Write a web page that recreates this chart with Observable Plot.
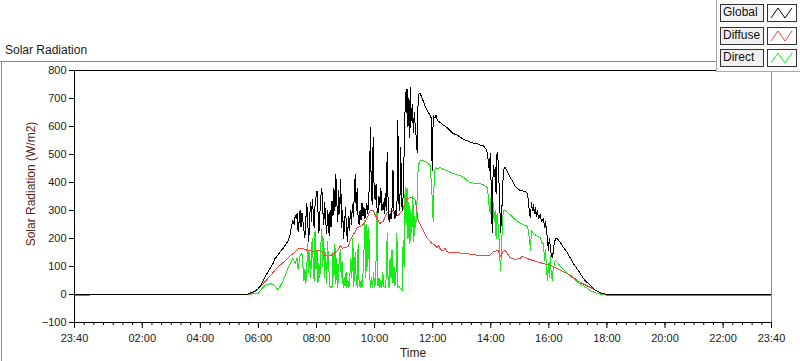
<!DOCTYPE html>
<html>
<head>
<meta charset="utf-8">
<script src="https://cdn.jsdelivr.net/npm/d3@7"></script>
<script src="https://cdn.jsdelivr.net/npm/@observablehq/plot@0.6"></script>
<style>
  html, body { margin: 0; padding: 0; background: #fff; }
  #wrap { position: relative; width: 800px; height: 361px; overflow: hidden; font-family: "Liberation Sans", Arial, sans-serif; }
  #wrap svg { position: absolute; left: 0; top: 0; }
  .abs { position: absolute; }
  .lbox { position: absolute; box-sizing: border-box; border: 1px solid #333; background: #f0f0f0; font-size: 12px; color: #111; line-height: 15px; padding-left: 2px; }
  .ibox { position: absolute; box-sizing: border-box; border: 1px solid #333; background: #fff; }
</style>
</head>
<body>
<div id="wrap"></div>
<script>
// ---- data (time in minutes from midnight; -20 = 23:40 of the previous day) ----
const seriesNames = ["Global", "Diffuse", "Direct"];
const seriesColors = ["#000000", "#ff4040", "#14ee14"];

const globalTimes = [-20,336,342,353,359,363,367,373,379,384,390,394,400,404,411,415,421,425,428,431,434,436,438,440,442,444,446,448,450,452,454,456,458,460,462,464,466,468,470,471,473,475,477,479,481,483,485,487,489,491,493,495,497,499,501,503,505,506,508,510,512,514,516,518,520,522,524,526,528,530,532,534,536,538,540,542,544,546,548,550,552,554,556,558,560,562,564,566,568,570,572,574,576,578,580,582,584,586,588,590,591,593,595,597,599,601,603,605,607,609,611,613,615,618,620,622,624,626,628,630,632,634,636,638,640,642,644,646,648,650,652,654,656,658,660,662,664,666,667,669,671,673,674,676,678,680,682,684,686,688,690,692,694,697,700,705,709,715,717,719,720,721,723,725,727,730,736,742,750,756,762,770,777,785,791,797,805,812,818,824,830,833,835,837,839,841,843,845,847,849,851,853,855,857,859,860,862,864,866,868,870,874,880,885,888,891,895,901,905,907,911,914,916,918,920,922,924,926,928,930,932,934,936,939,942,945,949,951,953,955,957,959,961,963,965,967,969,971,973,975,978,984,990,998,1005,1011,1019,1025,1031,1036,1046,1052,1056,1067,1077,1081,1420];
const globalValues = [0,0,5,12,20,28,40,61,78,93,110,128,140,150,165,175,190,211,240,264,250,282,270,290,225,260,300,240,290,260,230,204,270,325,250,190,280,330,260,340,300,240,320,350,371,300,220,290,350,380,300,250,330,260,218,300,270,210,300,240,335,280,380,300,430,330,260,370,290,410,240,300,200,260,310,230,190,280,230,300,250,320,280,350,430,300,380,270,250,300,265,325,280,310,270,300,325,290,350,420,596,400,320,560,380,340,395,310,290,350,320,380,300,330,290,360,300,507,320,260,290,270,310,445,300,270,300,280,620,330,300,525,320,300,420,600,720,650,735,600,700,560,740,620,680,580,650,600,560,507,700,718,720,705,693,670,655,640,630,443,500,640,632,630,640,620,614,605,596,586,575,570,562,553,550,545,540,539,534,532,520,507,470,443,503,380,220,460,420,453,360,507,480,400,300,220,264,350,440,453,453,440,418,405,396,385,378,371,371,369,368,364,360,330,290,275,330,300,320,290,310,280,300,270,285,260,270,240,260,230,200,157,200,170,140,132,150,180,195,200,198,185,168,150,128,110,90,75,58,48,32,22,16,6,1,0,0];

const diffuseTimes = [-20,10,12,336,342,353,360,373,384,394,404,415,425,436,442,446,452,462,470,473,483,491,498,504,510,518,525,529,533,537,545,549,553,560,564,570,574,580,586,591,597,605,611,618,626,636,642,649,657,663,667,673,678,684,688,690,698,709,719,725,729,733,736,742,746,750,762,777,791,805,818,839,845,855,860,862,866,870,880,891,901,905,916,928,942,957,963,975,984,1005,1025,1046,1067,1077,1081,1420];
const diffuseValues = [-4,-4,0,0,3,10,21,45,66,86,104,120,138,152,164,165,164,157,155,153,158,153,139,136,140,150,160,175,165,168,170,190,204,225,239,242,246,257,280,300,300,271,254,262,293,300,282,282,300,325,343,345,346,336,290,264,236,200,182,175,168,175,160,157,165,152,150,148,146,142,139,141,153,157,136,140,155,157,132,125,130,136,128,121,114,106,104,95,86,68,43,25,5,0,-4,-4];

const directTimes = [-20,336,360,367,373,384,390,394,400,405,411,421,431,436,440,442,446,450,452,454,456,458,460,462,464,466,468,471,473,475,477,479,481,483,485,487,489,491,493,495,497,499,501,503,505,508,510,512,514,516,518,520,522,524,526,529,531,533,535,537,539,541,543,545,547,549,551,553,555,557,560,562,564,566,568,570,572,574,577,580,582,584,586,588,590,592,594,596,598,600,602,605,607,609,611,613,615,617,619,622,624,626,628,630,632,634,636,638,640,642,644,646,648,650,652,654,657,659,661,663,665,667,669,671,673,675,677,679,681,683,685,688,690,692,694,700,705,709,715,719,721,723,725,729,736,742,750,756,762,777,785,791,797,812,818,824,833,837,839,841,843,845,847,849,851,853,855,857,860,862,864,866,870,874,880,888,895,901,907,916,920,922,924,928,934,942,946,949,951,953,955,957,959,961,963,965,967,969,973,978,984,990,998,1005,1011,1019,1025,1031,1036,1046,1052,1056,1067,1077,1420];
const directValues = [0,0,4,20,32,39,36,32,18,30,50,93,128,110,130,90,140,146,100,50,90,40,100,182,80,150,60,200,120,50,228,90,160,40,110,60,180,235,100,200,60,150,40,190,100,25,30,25,150,60,180,40,130,25,100,160,60,120,25,60,30,80,25,50,25,70,130,60,200,30,150,50,25,180,40,25,50,25,100,264,60,250,100,240,60,25,60,25,80,30,40,300,30,60,25,50,25,80,30,25,60,218,40,25,130,60,160,40,100,30,60,218,25,30,25,20,15,193,100,382,250,380,200,330,182,300,220,350,190,280,240,346,453,470,478,478,475,471,460,346,260,400,453,450,453,446,443,436,432,425,418,407,400,396,396,392,382,307,289,360,228,330,260,300,200,289,250,200,86,150,250,300,300,293,285,271,262,254,250,243,200,157,230,218,210,204,185,182,120,160,100,50,110,60,140,70,50,90,121,115,100,90,75,65,57,45,38,32,26,14,9,6,1,0,0];

// axis ticks
const yTicks = [-100, 0, 100, 200, 300, 400, 500, 600, 700, 800];
const xTickMinutes = [-20, 120, 240, 360, 480, 600, 720, 840, 960, 1080, 1200, 1320, 1420];
const xTickLabels = ["23:40", "02:00", "04:00", "06:00", "08:00", "10:00", "12:00", "14:00", "16:00", "18:00", "20:00", "22:00", "23:40"];

// ---- build tables ----
const toRows = (times, values, name) => times.map((t, i) => ({t, v: values[i], name}));
const globalRows = toRows(globalTimes, globalValues, "Global");
const diffuseRows = toRows(diffuseTimes, diffuseValues, "Diffuse");
const directRows = toRows(directTimes, directValues, "Direct");
const minorTicks = d3.range(-20, 1421, 20);

const lineStyle = {strokeWidth: 1, shapeRendering: "crispEdges"};

const chart = Plot.plot({
  width: 800,
  height: 361,
  marginLeft: 74,
  marginRight: 29,
  marginTop: 70,
  marginBottom: 39,
  style: {fontFamily: "'Liberation Sans', Arial, sans-serif", background: "transparent", color: "#1a1a22"},
  x: {domain: [-20, 1420], axis: null},
  y: {domain: [-100, 800], axis: null},
  marks: [
    Plot.line(directRows, {x: "t", y: "v", stroke: seriesColors[2], ...lineStyle}),
    Plot.line(diffuseRows, {x: "t", y: "v", stroke: seriesColors[1], ...lineStyle}),
    Plot.line(globalRows, {x: "t", y: "v", stroke: seriesColors[0], ...lineStyle}),
    Plot.frame({stroke: "#000"}),
    Plot.ruleX([1420], {stroke: "#8a8a8a"}),
    Plot.axisY({ticks: yTicks, tickSize: 5, tickPadding: 3, fontSize: 11, label: null, stroke: "#000"}),
    Plot.axisX({ticks: minorTicks, tickSize: 3, tickFormat: () => "", label: null, stroke: "#000"}),
    Plot.axisX({ticks: xTickMinutes, tickSize: 6, tickPadding: 6, fontSize: 11, label: null, stroke: "#000",
      tickFormat: d => xTickLabels[xTickMinutes.indexOf(d)]})
  ]
});

const wrap = document.getElementById("wrap");
wrap.appendChild(chart);

function add(html) { wrap.insertAdjacentHTML("beforeend", html); }
// outer panel frame
add('<div class="abs" style="left:0;top:61px;width:717px;height:1px;background:#8c8c8c"></div>');
add('<div class="abs" style="left:1px;top:61px;width:1px;height:300px;background:#8c8c8c"></div>');
// title and axis labels
add('<div class="abs" style="left:5px;top:43px;font-size:12px;color:#1a1a1a">Solar Radiation</div>');
add('<div class="abs" style="left:413px;top:346px;transform:translateX(-50%);font-size:12px;color:#3a1c10">Time</div>');
add('<div class="abs" style="left:31px;top:184px;transform:translate(-50%,-50%) rotate(-90deg);font-size:12px;color:#5a2410;white-space:nowrap">Solar Radiation (W/m2)</div>');
// legend panel
add('<div class="abs" style="left:716px;top:0;width:84px;height:72px;background:#fafafa;border-left:1px solid #a8a8a8;border-bottom:1px solid #a8a8a8;box-sizing:border-box"></div>');
const legendTops = [4, 27, 49];
seriesNames.forEach((name, i) => {
  const top = legendTops[i];
  add(`<div class="lbox" style="left:720px;top:${top}px;width:44px;height:18px">${name}</div>`);
  add(`<div class="ibox" style="left:767px;top:${top}px;width:30px;height:18px"><svg width="28" height="16" style="position:absolute;left:0;top:0"><polyline points="3,13 10,3 17,13 24,3" fill="none" stroke="${seriesColors[i]}" stroke-width="1"/></svg></div>`);
});
</script>
</body>
</html>
